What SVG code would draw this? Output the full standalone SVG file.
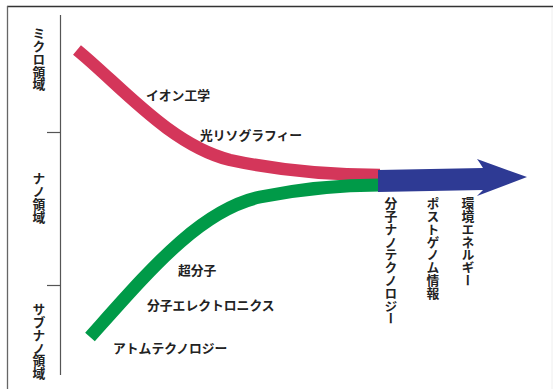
<svg xmlns="http://www.w3.org/2000/svg" width="553" height="389" viewBox="0 0 553 389">
<style>
.t{font-family:"Noto Sans CJK JP","Noto Sans",sans-serif;font-weight:bold;font-size:12.8px;fill:#222}
.v{writing-mode:vertical-rl;text-orientation:upright}
.ax{stroke:#555;stroke-width:1.2;fill:none}
</style>
<rect width="553" height="389" fill="#fff"/>
<g id="frame">
<line x1="7" y1="6.5" x2="553" y2="6.5" stroke="#333" stroke-width="1.3"/>
<line x1="7.5" y1="6" x2="7.5" y2="389" stroke="#666" stroke-width="1.3"/>
<line x1="552" y1="8" x2="552" y2="389" stroke="#eee" stroke-width="1"/>
</g>
<g id="axis">
<line class="ax" x1="60.5" y1="15" x2="60.5" y2="375"/>
<line class="ax" x1="47" y1="132.5" x2="60.5" y2="132.5"/>
<line class="ax" x1="47" y1="285.5" x2="60.5" y2="285.5"/>
<text class="t v" x="39" y="27">ミクロ領域</text>
<text class="t v" x="39" y="172">ナノ領域</text>
<text class="t v" x="39" y="303">サブナノ領域</text>
</g>
<g id="connectors">
<path id="red" d="M77,50 C120,85 170,145 230,160 C290,173 340,175 380,175" fill="none" stroke="#d4365a" stroke-width="12.5"/>
<path id="green" d="M90,337 C150,270 200,210 260,197 C310,187 350,185 380,185" fill="none" stroke="#009a48" stroke-width="13"/>
<path id="blue" d="M378,170 L483,168 Q480,163 477,159 L527,177 L477,196 Q480,193 483,190 L378,192 Z" fill="#2e3a94"/>
</g>
<g id="labels-red">
<text class="t" x="146" y="100">イオン工学</text>
<text class="t" x="200" y="140">光リソグラフィー</text>
</g>
<g id="labels-green">
<text class="t" x="178" y="275">超分子</text>
<text class="t" x="147" y="310">分子エレクトロニクス</text>
<text class="t" x="113" y="353">アトムテクノロジー</text>
</g>
<g id="labels-blue">
<text class="t v" x="391" y="197">分子ナノテクノロジー</text>
<text class="t v" x="433" y="197">ポストゲノム情報</text>
<text class="t v" x="468" y="197">環境エネルギー</text>
</g>
</svg>
